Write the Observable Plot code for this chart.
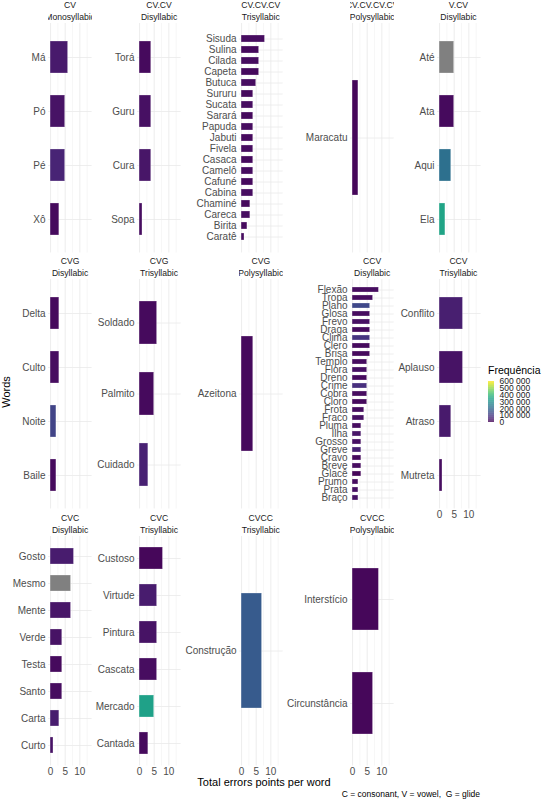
<!DOCTYPE html>
<html><head><meta charset="utf-8">
<script src="https://cdn.jsdelivr.net/npm/d3@7"></script>
<script src="https://cdn.jsdelivr.net/npm/@observablehq/plot@0.6"></script>
<style>
body{margin:0;background:#fff;}
#chart{position:relative;width:542px;height:800px;overflow:hidden;font-family:"Liberation Sans",Arial,Helvetica,sans-serif;}
.strip{position:absolute;overflow:hidden;display:flex;flex-direction:column;align-items:center;white-space:nowrap;font-size:8.6px;line-height:12px;color:#1a1a1a;}
.strip span{display:block;}
.lbl{position:absolute;white-space:nowrap;color:#000;}
</style></head><body><div id="chart"></div>
<script>
// ---- data ----
const structures = ["CV","CV.CV","CV.CV.CV","CV.CV.CV.CV","V.CV","CVG","CVG","CVG","CCV","CCV","CVC","CVC","CVCC","CVCC"];
const syllables = ["Monosyllabic","Disyllabic","Trisyllabic","Polysyllabic","Disyllabic","Disyllabic","Trisyllabic","Polysyllabic","Disyllabic","Trisyllabic","Disyllabic","Trisyllabic","Trisyllabic","Polysyllabic"];
const words = [
  ["Má","Pó","Pé","Xô"],
  ["Torá","Guru","Cura","Sopa"],
  ["Sisuda","Sulina","Cilada","Capeta","Butuca","Sururu","Sucata","Sarará","Papuda","Jabuti","Fivela","Casaca","Camelô","Cafuné","Cabina","Chaminé","Careca","Birita","Caratê"],
  ["Maracatu"],
  ["Até","Ata","Aqui","Ela"],
  ["Delta","Culto","Noite","Baile"],
  ["Soldado","Palmito","Cuidado"],
  ["Azeitona"],
  ["Flexão","Tropa","Plano","Glosa","Frevo","Draga","Clima","Clero","Brisa","Templo","Flora","Dreno","Crime","Cobra","Cloro","Frota","Fraco","Pluma","Ilha","Grosso","Greve","Cravo","Breve","Glacê","Prumo","Prata","Braço"],
  ["Conflito","Aplauso","Atraso","Mutreta"],
  ["Gosto","Mesmo","Mente","Verde","Testa","Santo","Carta","Curto"],
  ["Custoso","Virtude","Pintura","Cascata","Mercado","Cantada"],
  ["Construção"],
  ["Interstício","Circunstância"]
];
const errors = [
  [6,5,5,3],
  [4,4,4,1],
  [8,6,6,6,5,4,4,4,4,4,4,4,4,4,4,3,3,2,1],
  [2],
  [5,5,4,2],
  [3,3,2,2],
  [6,5,3],
  [4],
  [9,7,6,6,6,6,6,6,6,5,5,5,5,5,5,4,4,3,3,3,3,3,3,3,2,2,2],
  [8,8,4,1],
  [8,7,7,4,4,4,3,1],
  [8,6,6,6,5,3],
  [7],
  [9,7]
];
const frequency = [ // null = not available (grey)
  [40000,30000,60000,15000],
  [15000,25000,35000,20000],
  [20000,15000,20000,15000,20000,15000,20000,15000,20000,15000,20000,15000,20000,15000,20000,15000,20000,15000,20000],
  [10000],
  [null,15000,220000,350000],
  [15000,20000,120000,15000],
  [15000,15000,55000],
  [15000],
  [20000,20000,130000,20000,25000,15000,90000,15000,15000,20000,25000,15000,80000,20000,15000,20000,25000,20000,35000,25000,55000,15000,20000,10000,20000,25000,30000],
  [50000,30000,40000,20000],
  [45000,null,35000,30000,15000,20000,45000,30000],
  [10000,45000,30000,20000,340000,15000],
  [170000],
  [10000,10000]
];
const xTicks = [0,5,10];
const xMinor = [2.5,7.5,12.5];
const legendBreaks = [0,100000,200000,300000,400000,500000,600000];
const freqDomain = [0,600000];

// ---- layout ----
const chart = document.getElementById("chart");
const colZero = [50.3,139.3,241,352.4,438.7];
const rowTop = [23.2,279.3,535.5];
const panelH = 229.5;
const k = 2.93, xd = [-0.7,14.2];
const pw = (xd[1]-xd[0])*k;
const mL = 80, mB = 18;
const font = '"Liberation Sans",Arial,Helvetica,sans-serif';

words.forEach((ws,i)=>{
  const row = Math.floor(i/5), col = i%5;
  const showAxis = row===2 || (row===1 && col===4);
  const data = ws.map((w,j)=>({word:w, err:errors[i][j], freq:frequency[i][j]}));
  const panelLeft = colZero[col] + xd[0]*k;
  const p = Plot.plot({
    width: mL+pw, height: panelH+mB,
    marginLeft: mL, marginRight: 0, marginTop: 0, marginBottom: mB,
    x: {domain: xd, axis: showAxis ? "bottom" : null, ticks: xTicks, tickSize: 0, tickPadding: 2, label: null},
    y: {type:"band", domain: ws, paddingInner: 0.4, paddingOuter: 0.3, axis:"left", tickSize:0, tickPadding:3, label:null, grid:true},
    color: {type:"linear", scheme:"viridis", domain: freqDomain},
    style: {background:"transparent", overflow:"visible", fontFamily:font, fontSize:"10px", color:"#4d4d4d"},
    marks: [
      Plot.ruleX(xMinor, {stroke:"#efefef", strokeWidth:0.5}),
      Plot.ruleX(xTicks, {stroke:"#e8e8e8", strokeWidth:0.8}),
      Plot.barX(data.filter(d=>d.freq!=null), {x:"err", y:"word", fill:"freq", stroke:"white", strokeOpacity:0.45, strokeWidth:0.6}),
      Plot.barX(data.filter(d=>d.freq==null), {x:"err", y:"word", fill:"#808080", stroke:"white", strokeOpacity:0.45, strokeWidth:0.6})
    ]
  });
  p.style.position = "absolute";
  p.style.left = (panelLeft - mL) + "px";
  p.style.top = rowTop[row] + "px";
  p.style.maxWidth = "none";
  chart.appendChild(p);
  const s = document.createElement("div");
  s.className = "strip";
  s.style.left = panelLeft + "px";
  s.style.width = pw + "px";
  s.style.top = (rowTop[row]-24) + "px";
  const a = document.createElement("span"); a.textContent = structures[i];
  const b = document.createElement("span"); b.textContent = syllables[i];
  s.appendChild(a); s.appendChild(b);
  chart.appendChild(s);
});

// legend
const gradientSteps = d3.range(0, 600000, 10000);
const leg = Plot.plot({
  width: 62, height: 70, marginLeft: 8, marginRight: 48, marginTop: 21, marginBottom: 8,
  x: {domain:[0,1], axis:null},
  y: {domain: freqDomain, axis:"right", ticks: legendBreaks, tickSize:0, tickPadding:5, label:null,
      tickFormat: d => d3.format(",")(d).replace(/,/g," ")},
  color: {type:"linear", scheme:"viridis", domain: freqDomain},
  style: {background:"transparent", overflow:"visible", fontFamily:font, fontSize:"8.5px", color:"#222"},
  marks: [Plot.rect(gradientSteps, {x1:()=>0, x2:()=>1, y1:d=>d, y2:d=>d+10000, fill:d=>d+5000})]
});
leg.style.position = "absolute"; leg.style.left = "480px"; leg.style.top = "360px"; leg.style.maxWidth="none";
chart.appendChild(leg);

function label(text, css){
  const d = document.createElement("div");
  d.className = "lbl"; d.textContent = text;
  Object.assign(d.style, css);
  chart.appendChild(d);
}
label("Frequência", {left:"488px", top:"364px", fontSize:"10.5px", lineHeight:"12px"});
label("Words", {left:"6px", top:"392px", fontSize:"11px", transform:"translate(-50%,-50%) rotate(-90deg)"});
label("Total errors points per word", {left:"264px", top:"782px", fontSize:"11px", transform:"translate(-50%,-50%)"});
label("C = consonant, V = vowel,  G = glide", {left:"480px", top:"793.5px", fontSize:"8.5px", whiteSpace:"pre", transform:"translate(-100%,-50%)"});
</script></body></html>
